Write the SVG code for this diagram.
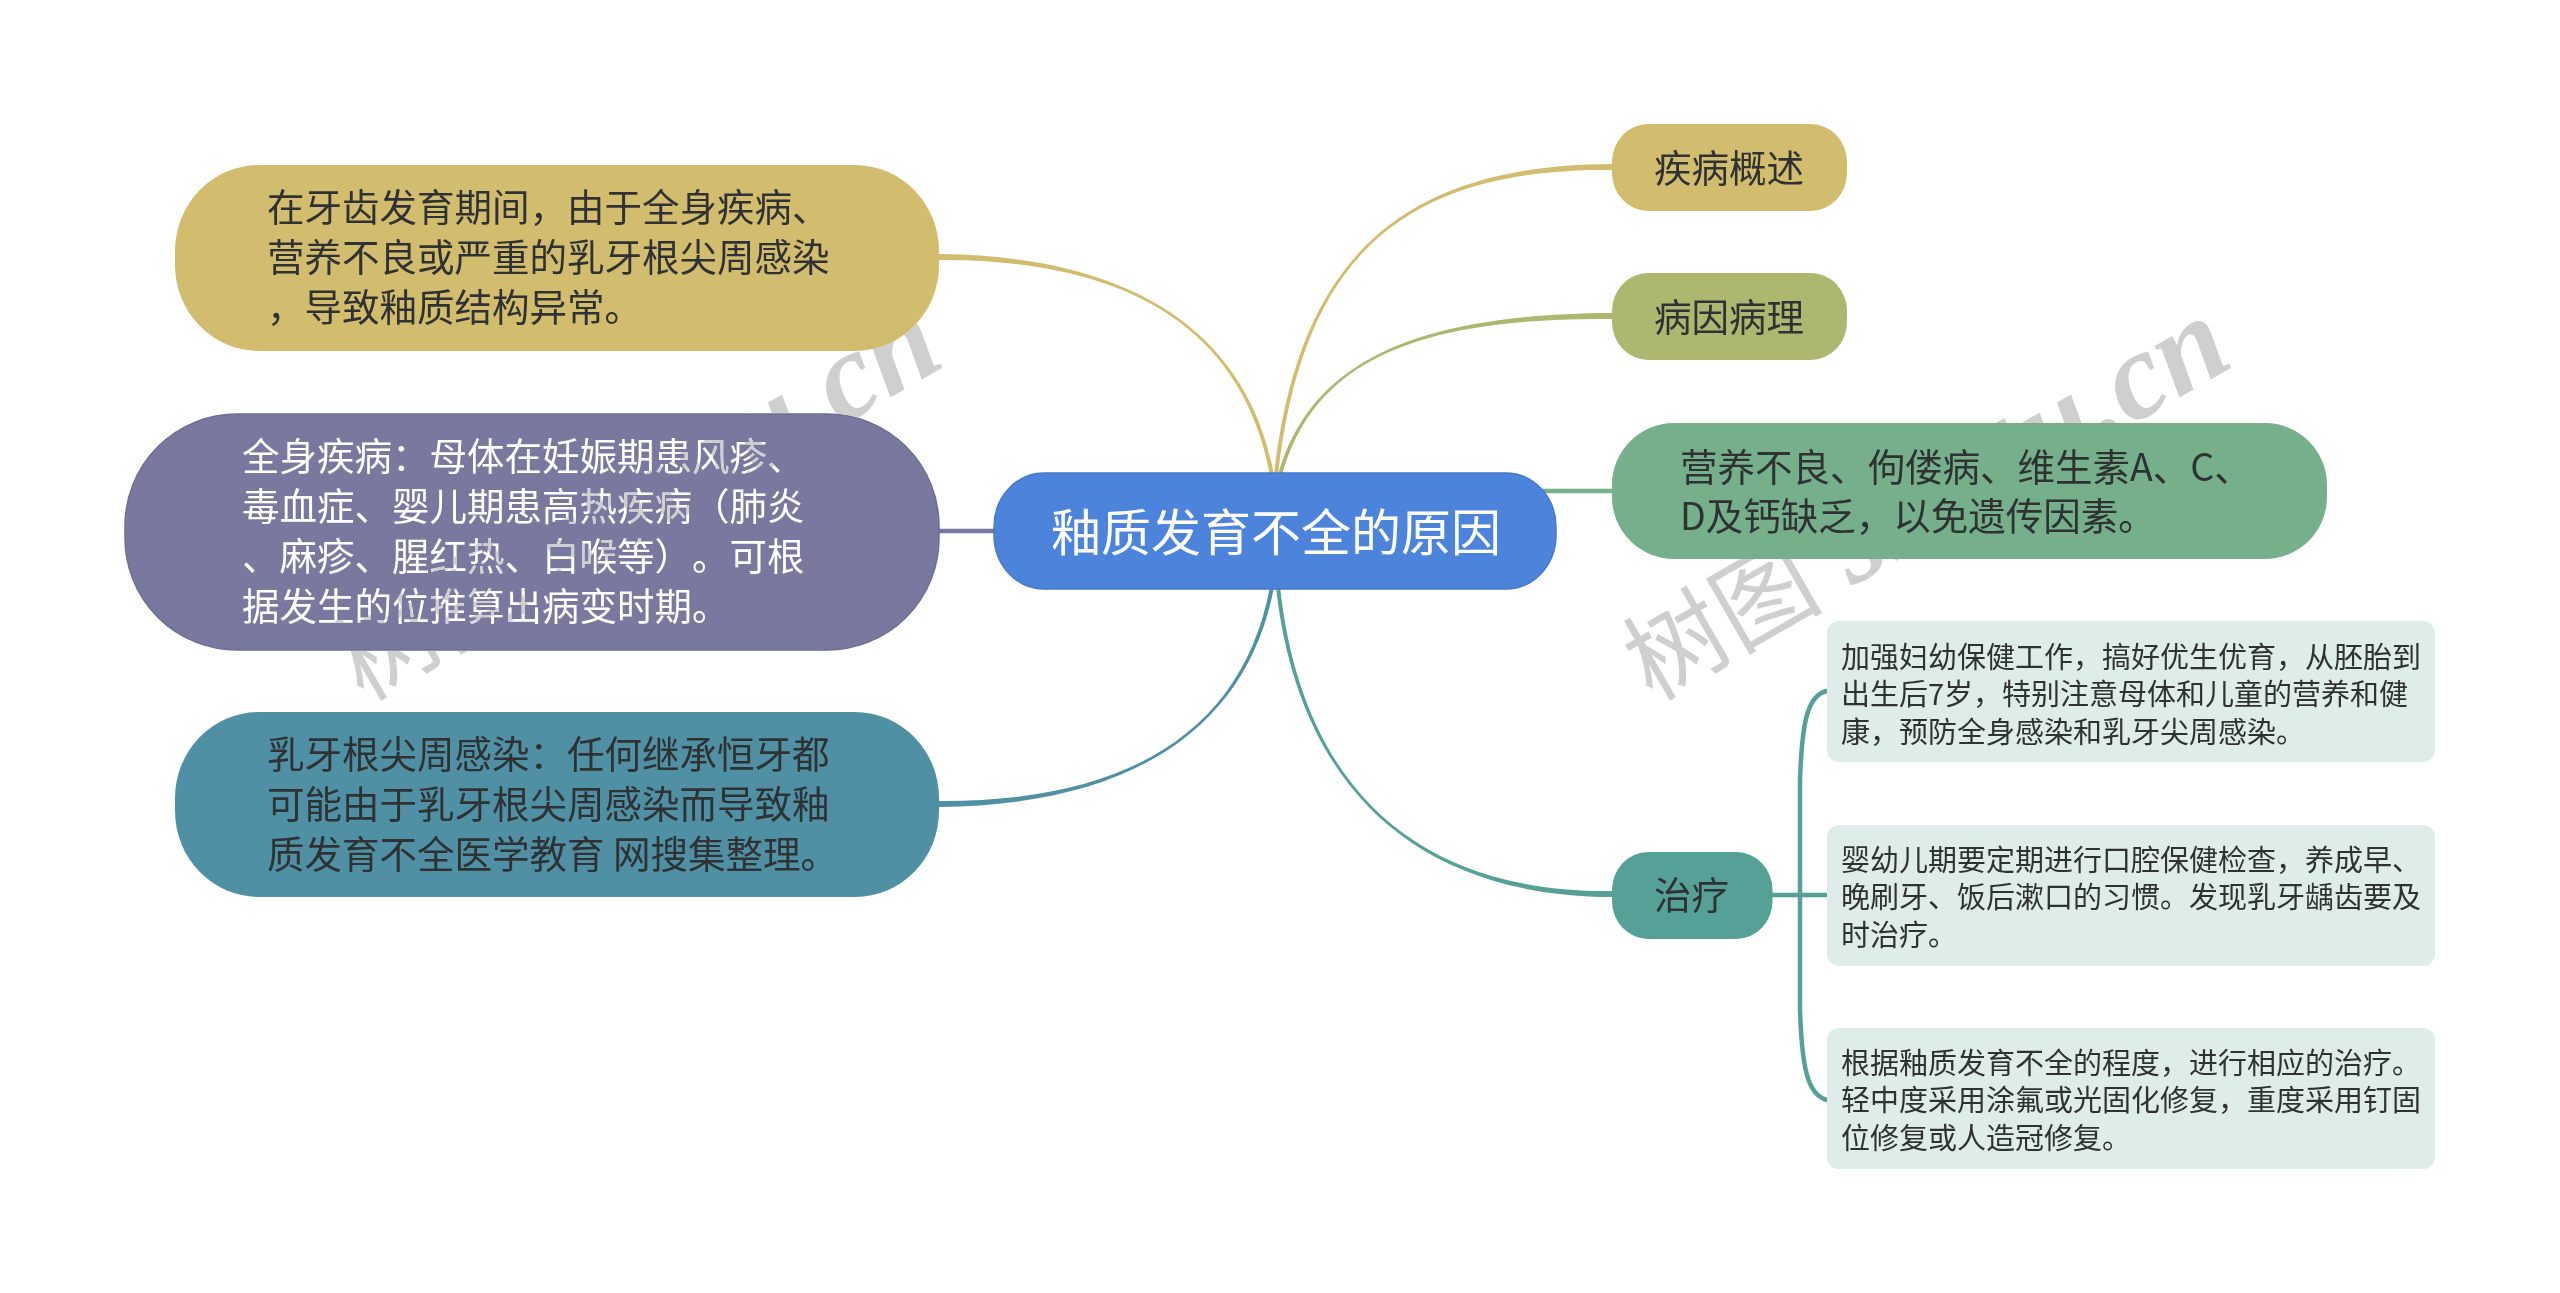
<svg xmlns="http://www.w3.org/2000/svg" width="2560" height="1293" viewBox="0 0 2560 1293">
<style>
text{font-family:"Noto Sans CJK SC","Noto Sans",sans-serif;fill:#2f3232;text-spacing-trim:space-all}
.m{font-size:37.5px}
.s{font-size:29px}
.w{fill:#fff}
.c{fill:none;stroke-width:4.500;stroke-linecap:round}
.wm{font-family:"Liberation Serif","Noto Sans CJK SC",serif;font-style:italic;font-weight:bold;font-size:124px;fill:#cfcfcf;mix-blend-mode:darken}
.wm .z{font-family:"Noto Sans CJK SC",serif;font-style:normal;font-weight:normal;font-size:100px;fill:#cfcfcf}
.leaf{fill:#deecea}
</style>
<rect width="2560" height="1293" fill="#fff"/>
<g id="connectors">
<path fill="#d2bc6d" d="M1270 475C1243 330 1130 259 939 260V254C1130 256 1247 330 1274 475Z"/>
<path fill="#d2bc6d" d="M1274 475C1298 260 1400 165 1612 164V170C1400 168 1302 260 1278 475Z"/>
<path fill="#adb76f" d="M1278 475C1308 370 1400 314 1612 313V319C1400 317 1312 370 1282 475Z"/>
<path class="c" stroke="#79789f" d="M939 531H994"/>
<path class="c" stroke="#76b08a" d="M1540 491H1612"/>
<path fill="#5090a5" d="M1270 587C1243 730 1130 802 939 801V807C1130 805 1247 730 1274 587Z"/>
<path fill="#55a198" d="M1276 587C1296 770 1400 896 1612 897V891C1400 893 1300 770 1280 587Z"/>
<path class="c" stroke="#55a198" d="M1772 895H1827"/>
<path class="c" stroke="#55a198" d="M1827 691C1808 695 1802 720 1800 780V1010C1802 1070 1808 1095 1827 1100"/>
</g>
<g id="root">
<rect x="994" y="473" width="562" height="116" rx="50" ry="54" fill="#4d84db" stroke="#4678c8" stroke-width="1.500"/>
<text class="w" style="font-size:50px" x="1051" y="551">釉质发育不全的原因</text>
</g>
<g id="node-l1">
<rect x="175" y="165" width="764" height="186" rx="84" ry="86" fill="#d2bc6d"/>
<text class="m" x="267" y="221">在牙齿发育期间，由于全身疾病、</text>
<text class="m" x="267" y="271">营养不良或严重的乳牙根尖周感染</text>
<text class="m" x="267" y="321">，导致釉质结构异常。</text>
</g>
<g id="node-l2">
<rect x="125" y="414" width="814" height="236" rx="112" ry="112" fill="#79789f" stroke="#6d6c92" stroke-width="1.500"/>
<text class="m w" x="242" y="470">全身疾病：母体在妊娠期患风疹、</text>
<text class="m w" x="242" y="520">毒血症、婴儿期患高热疾病（肺炎</text>
<text class="m w" x="242" y="570">、麻疹、腥红热、白喉等）。可根</text>
<text class="m w" x="242" y="620">据发生的位推算出病变时期。</text>
</g>
<g id="node-l3">
<rect x="175" y="712" width="764" height="185" rx="84" ry="86" fill="#5090a5"/>
<text class="m" x="267" y="768">乳牙根尖周感染：任何继承恒牙都</text>
<text class="m" x="267" y="818">可能由于乳牙根尖周感染而导致釉</text>
<text class="m" x="267" y="868">质发育不全医学教育 网搜集整理。</text>
</g>
<g id="node-r1">
<rect x="1612" y="124" width="235" height="87" rx="36" ry="38" fill="#d2bc6d"/>
<text class="m" x="1654" y="182">疾病概述</text>
</g>
<g id="node-r2">
<rect x="1612" y="273" width="235" height="87" rx="36" ry="38" fill="#adb76f"/>
<text class="m" x="1654" y="331">病因病理</text>
</g>
<g id="node-r3">
<rect x="1612" y="423" width="715" height="136" rx="62" ry="62" fill="#76b08a"/>
<text class="m" x="1680" y="481">营养不良、佝偻病、维生素A、C、</text>
<text class="m" x="1680" y="530">D及钙缺乏，以免遗传因素。</text>
</g>
<g id="node-r4">
<rect x="1612" y="852" width="160.500" height="87" rx="36" ry="38" fill="#55a198"/>
<text class="m" x="1654" y="909">治疗</text>
</g>
<g id="leaf-1">
<rect class="leaf" x="1827" y="621" width="608" height="141" rx="12"/>
<text class="s" x="1841" y="668">加强妇幼保健工作，搞好优生优育，从胚胎到</text>
<text class="s" x="1841" y="705">出生后7岁，特别注意母体和儿童的营养和健</text>
<text class="s" x="1841" y="743">康，预防全身感染和乳牙尖周感染。</text>
</g>
<g id="leaf-2">
<rect class="leaf" x="1827" y="825" width="608" height="141" rx="12"/>
<text class="s" x="1841" y="871">婴幼儿期要定期进行口腔保健检查，养成早、</text>
<text class="s" x="1841" y="908">晚刷牙、饭后漱口的习惯。发现乳牙龋齿要及</text>
<text class="s" x="1841" y="946">时治疗。</text>
</g>
<g id="leaf-3">
<rect class="leaf" x="1827" y="1028" width="608" height="141" rx="12"/>
<text class="s" x="1841" y="1074">根据釉质发育不全的程度，进行相应的治疗。</text>
<text class="s" x="1841" y="1111">轻中度采用涂氟或光固化修复，重度采用钉固</text>
<text class="s" x="1841" y="1149">位修复或人造冠修复。</text>
</g>
<g id="watermark">
<text class="wm" transform="translate(363 702) rotate(-30)"><tspan class="z">树图</tspan> shutu.cn</text>
<text class="wm" transform="translate(1652 702) rotate(-30)"><tspan class="z">树图</tspan> shutu.cn</text>
</g>
</svg>
